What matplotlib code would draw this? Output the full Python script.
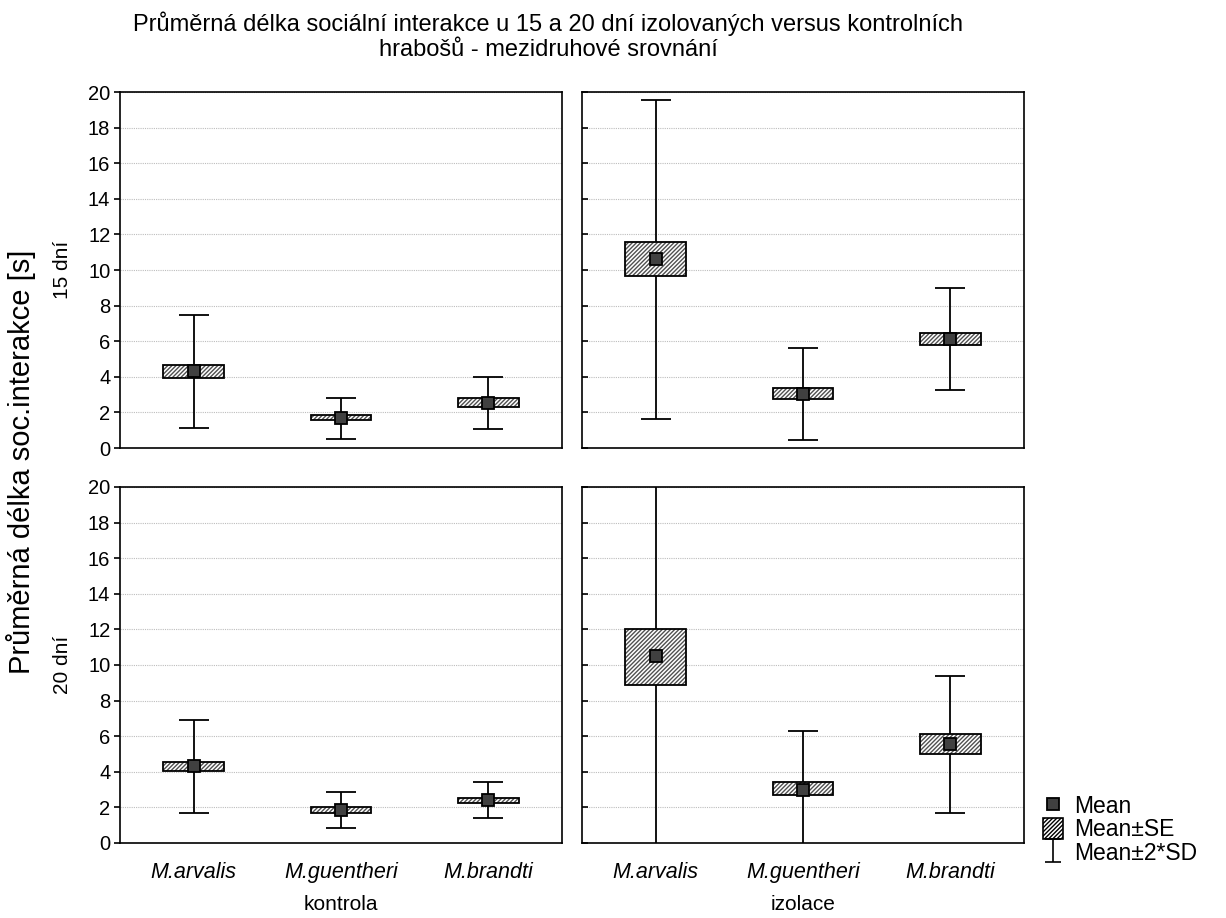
import matplotlib
matplotlib.use('Agg')
import matplotlib.pyplot as plt
import numpy as np
from matplotlib.patches import Patch
from matplotlib.lines import Line2D

plt.rcParams['font.family'] = ['Liberation Sans', 'DejaVu Sans']

species = ['M.arvalis', 'M.guentheri', 'M.brandti']
groups = ['kontrola', 'izolace']
periods = ['15 dní', '20 dní']

# mean, SE box (low, high), 2*SD whiskers (low, high) per panel
mean_15_kontrola = [4.3, 1.7, 2.55]
se_lo_15_kontrola = [3.95, 1.55, 2.3]
se_hi_15_kontrola = [4.65, 1.85, 2.8]
sd_lo_15_kontrola = [1.1, 0.5, 1.05]
sd_hi_15_kontrola = [7.5, 2.8, 4.0]

mean_15_izolace = [10.6, 3.05, 6.1]
se_lo_15_izolace = [9.65, 2.75, 5.8]
se_hi_15_izolace = [11.6, 3.35, 6.45]
sd_lo_15_izolace = [1.65, 0.45, 3.25]
sd_hi_15_izolace = [19.55, 5.6, 9.0]

mean_20_kontrola = [4.3, 1.85, 2.4]
se_lo_20_kontrola = [4.05, 1.7, 2.25]
se_hi_20_kontrola = [4.55, 2.0, 2.55]
sd_lo_20_kontrola = [1.7, 0.85, 1.4]
sd_hi_20_kontrola = [6.9, 2.85, 3.4]

mean_20_izolace = [10.5, 3.0, 5.55]
se_lo_20_izolace = [8.9, 2.7, 5.0]
se_hi_20_izolace = [12.05, 3.4, 6.1]
sd_lo_20_izolace = [-0.8, -0.3, 1.7]
sd_hi_20_izolace = [21.8, 6.3, 9.4]

panels = [
    [(mean_15_kontrola, se_lo_15_kontrola, se_hi_15_kontrola, sd_lo_15_kontrola, sd_hi_15_kontrola),
     (mean_15_izolace, se_lo_15_izolace, se_hi_15_izolace, sd_lo_15_izolace, sd_hi_15_izolace)],
    [(mean_20_kontrola, se_lo_20_kontrola, se_hi_20_kontrola, sd_lo_20_kontrola, sd_hi_20_kontrola),
     (mean_20_izolace, se_lo_20_izolace, se_hi_20_izolace, sd_lo_20_izolace, sd_hi_20_izolace)],
]

W, H = 1226, 918
fig = plt.figure(figsize=(W / 100, H / 100), dpi=100)

lefts = [120, 582]
tops = [92, 487]
pw, ph = 442, 356
hatch = '////////'

axes = []
for r in range(2):
    for c in range(2):
        ax = fig.add_axes([lefts[c] / W, 1 - (tops[r] + ph) / H, pw / W, ph / H])
        axes.append(ax)
        mean, se_lo, se_hi, sd_lo, sd_hi = panels[r][c]
        x = list(range(len(species)))
        err = [[m - lo for m, lo in zip(mean, sd_lo)], [hi - m for m, hi in zip(mean, sd_hi)]]
        ax.errorbar(x, mean, yerr=err, fmt='none', ecolor='black', elinewidth=1.3,
                    capsize=10.8, capthick=1.3, zorder=2)
        heights = [hi - lo for lo, hi in zip(se_lo, se_hi)]
        ax.bar(x, heights, bottom=se_lo, width=0.41, color='white', edgecolor='#505050',
               hatch=hatch, linewidth=0, zorder=3)
        ax.bar(x, heights, bottom=se_lo, width=0.41, color='none', edgecolor='black',
               linewidth=1.3, zorder=4)
        ax.plot(x, mean, linestyle='none', marker='s', markersize=8, markerfacecolor='#404040',
                markeredgecolor='black', markeredgewidth=1.3, zorder=5)

        ax.set_xlim(-0.5, 2.5)
        ax.set_ylim(0, 20)
        ax.set_yticks(range(0, 21, 2))
        ax.yaxis.grid(True, linestyle=(0, (1, 1)), color='#bdbdbd', linewidth=0.8)
        ax.set_axisbelow(True)
        for s in ax.spines.values():
            s.set_linewidth(1.2)
        ax.set_xticks(x)
        ax.tick_params(axis='x', length=0)
        if r == 1:
            ax.set_xticklabels(species, fontsize=15.5, style='italic')
            ax.tick_params(axis='x', pad=14)
        else:
            ax.set_xticklabels([])
        if c == 0:
            ax.tick_params(axis='y', direction='out', length=4, width=1.2, labelsize=14.5, pad=3)
        else:
            ax.tick_params(axis='y', direction='in', length=4, width=1.2, labelleft=False)

fig.text(548 / W, 1 - 24 / H, 'Průměrná délka sociální interakce u 15 a 20 dní izolovaných versus kontrolních',
         ha='center', va='center', fontsize=17)
fig.text(548 / W, 1 - 50 / H, 'hrabošů - mezidruhové srovnání', ha='center', va='center', fontsize=17)

fig.text(21 / W, 1 - 462 / H, 'Průměrná délka soc.interakce [s]', rotation=90,
         ha='center', va='center', fontsize=21)
for r, label in enumerate(periods):
    fig.text(62 / W, 1 - (tops[r] + ph / 2) / H, label, rotation=90,
             ha='center', va='center', fontsize=15)

for c, label in enumerate(groups):
    fig.text((lefts[c] + pw / 2) / W, 1 - 905 / H, label, ha='center', va='center', fontsize=15)

# legend handle for the whiskers: an empty errorbar with narrow caps
eb_leg = axes[0].errorbar([np.nan], [np.nan], yerr=[[np.nan], [np.nan]], fmt='none',
                          ecolor='black', elinewidth=1.2, capsize=6, capthick=1.2)
handles = [
    Line2D([], [], linestyle='none', marker='s', markersize=8, markerfacecolor='#404040',
           markeredgecolor='black', markeredgewidth=1.3),
    Patch(facecolor='white', edgecolor='black', hatch=hatch, linewidth=1.2),
    eb_leg,
]
fig.legend(handles, ['Mean', 'Mean±SE', 'Mean±2*SD'], loc='lower left',
           bbox_to_anchor=(1032 / W, 1 - 876 / H), frameon=False, fontsize=16.5,
           handlelength=0.85, handleheight=1.0, handletextpad=0.5, labelspacing=0.0,
           borderpad=0)

fig.savefig('out.png', dpi=100)
